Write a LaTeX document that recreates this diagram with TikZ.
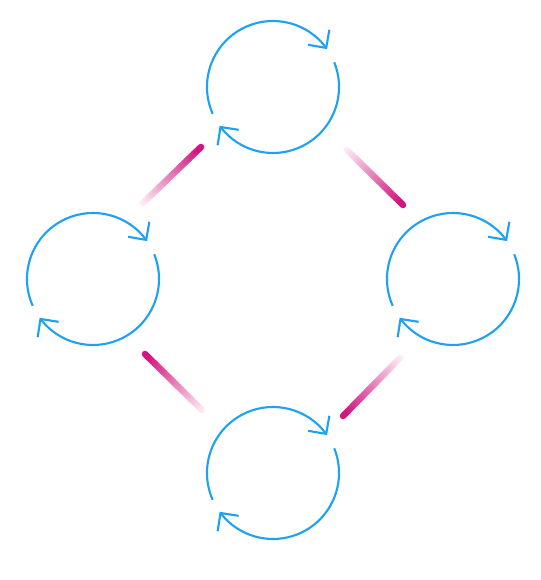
\documentclass[tikz,border=0pt]{standalone}
\usepackage{tikz}
\usetikzlibrary{arrows.meta,bending,calc}
\definecolor{ringblue}{HTML}{1DA1F2}
\definecolor{linkpink}{HTML}{D4147F}

\begin{document}
\begin{tikzpicture}[x=0.02cm, y=0.02cm,
	ring/.style={ringblue, line width=1.2pt, -{Straight Barb[length=0.26cm, width=0.52cm, flex]}},
	link/.style={line width=0.13cm, line cap=round}]
	\useasboundingbox (0,0) rectangle (540,580);
	\coordinate (rtop) at (273,493);
	\coordinate (rleft) at (93,301);
	\coordinate (rright) at (453,301);
	\coordinate (rbottom) at (273,107);
	\foreach \c in {rtop,rleft,rright,rbottom}{
		\draw[ring] ($(\c)+(204:66)$) arc[start angle=204, end angle=35, radius=66];
		\draw[ring] ($(\c)+(22:66)$) arc[start angle=22, end angle=-144, radius=66];
	}
	\coordinate (la1) at (143,377); \coordinate (lb1) at (201,433);
	\coordinate (la2) at (347,430); \coordinate (lb2) at (403,375);
	\coordinate (la3) at (400,222); \coordinate (lb3) at (343,164);
	\coordinate (la4) at (202,170); \coordinate (lb4) at (145,226);
	\foreach \a/\b in {la1/lb1,la2/lb2,la3/lb3,la4/lb4}{
		\foreach \i in {0,...,23}{
			\pgfmathsetmacro\s{\i/24}
			\pgfmathsetmacro\e{(\i+1)/24}
			\pgfmathtruncatemacro\p{5+95*(\i+1)/24}
			\draw[link, linkpink!\p!white] ($(\a)!\s!(\b)$) -- ($(\a)!\e!(\b)$);
		}
	}
\end{tikzpicture}
\end{document}
